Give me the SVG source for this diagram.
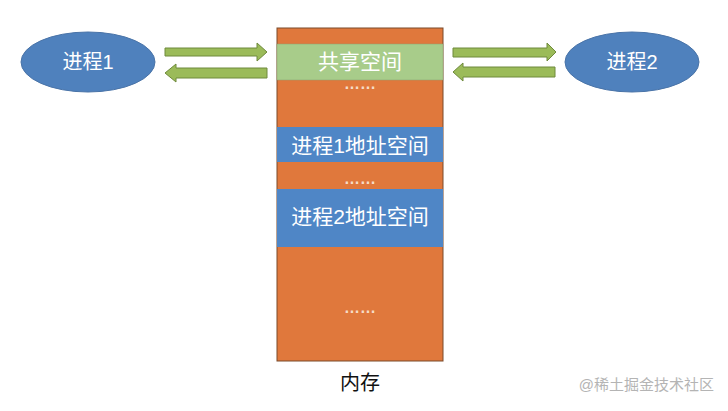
<svg xmlns="http://www.w3.org/2000/svg" width="728" height="411" viewBox="0 0 728 411">
<style>
.t{font-family:"Liberation Sans","Noto Sans CJK SC",sans-serif;fill:#fff;text-anchor:middle;dominant-baseline:central}
.proc{fill:#4f81bd;stroke:#4a74a8;stroke-width:1}
.arrow{fill:#9bbb59;stroke:#6f8a3c;stroke-width:1}
.dots{font-family:"Liberation Sans",sans-serif;fill:#f6dcc8;font-size:16px;font-weight:bold;text-anchor:middle}
</style>
<rect width="728" height="411" fill="#fff"/>
<g id="memory">
<rect x="277" y="28" width="166" height="333" fill="#e0783c" stroke="#7a4a2a" stroke-width="1"/>
<rect x="277" y="44" width="166" height="36" fill="#a8cc8a" stroke="#8aa070" stroke-width="0.5"/>
<text class="t" x="360" y="61" font-size="21" fill="#eef5e6">共享空间</text>
<text class="dots" x="360" y="89">……</text>
<rect x="277" y="127" width="166" height="35" fill="#4f86c6"/>
<text class="t" x="360" y="145" font-size="21">进程1地址空间</text>
<text class="dots" x="360" y="184">……</text>
<rect x="277" y="189" width="166" height="58" fill="#4f86c6"/>
<text class="t" x="360" y="216" font-size="21">进程2地址空间</text>
<text class="dots" x="360" y="313">……</text>
</g>
<g id="p1">
<ellipse class="proc" cx="88" cy="62" rx="67" ry="30"/>
<text class="t" x="88" y="62" font-size="20">进程1</text>
</g>
<g id="p2">
<ellipse class="proc" cx="632" cy="62" rx="67" ry="30"/>
<text class="t" x="632" y="62" font-size="20">进程2</text>
</g>
<g id="connectors">
<path class="arrow" d="M165,48 H257 V43 L267,52 L257,61 V56 H165 Z"/>
<path class="arrow" d="M267,68 H176 V64 L165,73 L176,82 V78 H267 Z"/>
<path class="arrow" d="M453,48 H547 V43 L556,52 L547,61 V57 H453 Z"/>
<path class="arrow" d="M555,67 H463 V63 L453,72 L463,81 V77 H555 Z"/>
</g>
<text x="360" y="390" font-family="'Liberation Sans','Noto Sans CJK SC',sans-serif" font-size="20" fill="#111" text-anchor="middle">内存</text>
<text x="714" y="390" font-family="'Liberation Sans','Noto Sans CJK SC',sans-serif" font-size="15" fill="#b4b4b4" text-anchor="end">@稀土掘金技术社区</text>
</svg>
